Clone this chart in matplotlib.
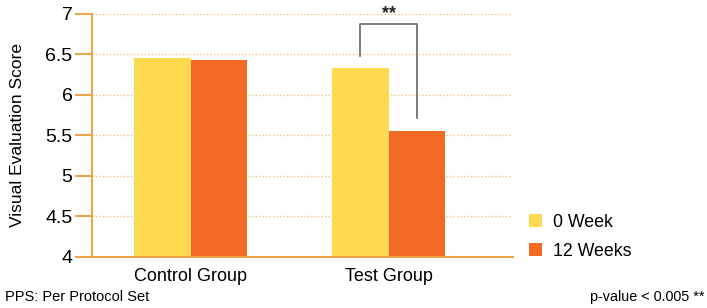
import numpy as np
import matplotlib.pyplot as plt

plt.rcParams['font.family'] = ['Liberation Sans', 'DejaVu Sans']

groups = ['Control Group', 'Test Group']
week0 = [6.45, 6.33]
week12 = [6.43, 5.56]
yticks = [4, 4.5, 5, 5.5, 6, 6.5, 7]
ytick_labels = ['4', '4.5', '5', '5.5', '6', '6.5', '7']

yellow = '#FDDA4F'
orange = '#F26A24'
gold = '#E9A84A'

fig = plt.figure(figsize=(7.07, 3.08), dpi=100)
ax = fig.add_axes([0.130, 0.166, 0.596, 0.789])

x = np.arange(len(groups))
w = 0.285
ax.bar(x - w / 2, np.array(week0) - 4, w, bottom=4, color=yellow, label='0 Week')
ax.bar(x + w / 2, np.array(week12) - 4, w, bottom=4, color=orange, label='12 Weeks')

ax.set_ylim(4, 7)
ax.set_xlim(-0.5, 1.63)
ax.set_yticks(yticks)
ax.set_yticklabels(ytick_labels, fontsize=14)
ax.set_xticks(x)
ax.set_xticklabels(groups, fontsize=13)
ax.tick_params(axis='x', length=0, pad=8)
ax.tick_params(axis='y', length=12, width=1.5, color=gold, pad=2)

for t in yticks[1:]:
    ax.axhline(t, color=gold, lw=1, ls=(0, (1, 1.5)), alpha=0.7, zorder=0)

for s in ['top', 'right']:
    ax.spines[s].set_visible(False)
for s in ['left', 'bottom']:
    ax.spines[s].set_color(gold)
    ax.spines[s].set_linewidth(1.5)

ax.set_ylabel('Visual Evaluation Score', fontsize=12.5)
ax.yaxis.set_label_coords(-0.159, 0.5)

# significance bracket
xl = x[1] - w / 2
xr = x[1] + w / 2
ax.plot([xl, xl, xr, xr], [6.48, 6.87, 6.87, 5.72], color='#666666', lw=1.2)
ax.text(x[1], 6.9, '**', ha='center', va='bottom', fontsize=13, fontweight='bold', color='#222222')

fig.legend(loc='upper left', bbox_to_anchor=(0.735, 0.335), frameon=False,
           fontsize=12.8, handlelength=0.75, handleheight=0.75, handletextpad=0.6,
           labelspacing=0.7, borderpad=0)

fig.text(0.007, 0.035, 'PPS: Per Protocol Set', fontsize=10.5, va='center')
fig.text(0.997, 0.035, 'p-value < 0.005 **', fontsize=10.4, va='center', ha='right')

fig.savefig('out.png', dpi=100)
